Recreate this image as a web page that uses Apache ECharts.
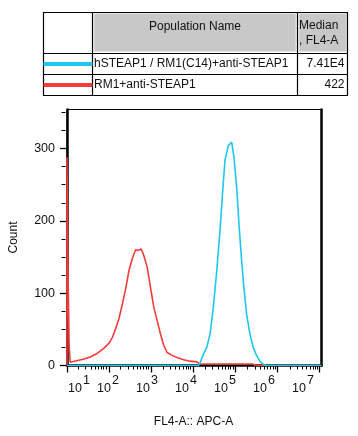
<!DOCTYPE html>
<html>
<head>
<meta charset="utf-8">
<script src="https://cdn.jsdelivr.net/npm/echarts@6/dist/echarts.min.js"></script>
<style>html,body{margin:0;padding:0;background:#fff}#c{width:358px;height:436px}</style>
</head>
<body>
<div id="c"></div>
<script>
// ---- data (x values are log10 of FL4-A :: APC-A) ----
var redExp   = [1.00,1.00,1.012,1.02,1.04,1.05,1.065,1.075,1.253,1.409,1.567,1.725,1.881,1.999,2.080,2.158,2.236,2.316,2.394,2.472,2.552,2.630,2.684,2.765,2.826,2.906,2.984,3.062,3.143,3.221,3.299,3.379,3.497,3.615,3.771,3.929,4.088,4.166,5.418,5.489,7.05];
var redCount = [0,288,288,143,143,30,30,4.5,7,9,12,17,24,31,39,51,65,85,106,131,148,160,159,161,152,136,108,81,62,44,28,18,14,11,8,6,5,2,2,0,0];
var cyanExp   = [1.00,4.125,4.166,4.244,4.324,4.402,4.480,4.560,4.638,4.702,4.756,4.834,4.914,4.969,5.033,5.094,5.151,5.205,5.269,5.347,5.425,5.505,5.583,5.661,5.725,7.05];
var cyanCount = [0,0,4,16,25,44,81,131,187,242,284,304,309,288,247,191,145,108,71,44,25,14,6,2,0,0];

var seriesNames   = ['hSTEAP1 / RM1(C14)+anti-STEAP1', 'RM1+anti-STEAP1'];
var seriesMedians = ['7.41E4', '422'];
var seriesColors  = ['#1ec6f0', '#f23c3c'];
var tableHeaders  = ['Population Name', 'Median', ', FL4-A'];

var xDecades   = [1,2,3,4,5,6,7];
var xMinorMult = [2,3,4,5,6,7,8,9];
var yMajor = [0,100,200,300];
var yMinor = [25,50,75,125,150,175,225,250,275,325,350];

var xMinorTicks = [];
xDecades.forEach(function(d){ xMinorMult.forEach(function(m){ var v = d + Math.log10(m); if (v < 7.05) xMinorTicks.push(v); }); });

function zip(a,b){ return a.map(function(v,i){ return [v,b[i]]; }); }

var FONT = 'Arial, "Liberation Sans", sans-serif';
var G = {left:65.5, top:109.5, width:256, height:256};

var chart = echarts.init(document.getElementById('c'), null, {renderer:'canvas'});

// ---- table graphic ----
var T = {x0:43.5, x1:92.5, x2:297.5, x3:347.5, y0:12.5, y1:53.5, y2:74.5, y3:95.5};
var gfx = [];
gfx.push({type:'rect', shape:{x:T.x1+1.5, y:T.y0+1, width:T.x2-T.x1-3, height:T.y1-T.y0-3}, style:{fill:'#c8c8c8', stroke:'#e4e4e4', lineWidth:1}});
gfx.push({type:'rect', shape:{x:T.x2+1.5, y:T.y0+1, width:T.x3-T.x2-2.5, height:T.y1-T.y0-3}, style:{fill:'#c8c8c8', stroke:'#e4e4e4', lineWidth:1}});
gfx.push({type:'rect', shape:{x:T.x0, y:T.y0, width:T.x3-T.x0, height:T.y3-T.y0}, style:{fill:null, stroke:'#000', lineWidth:1.2}});
[T.x1, T.x2].forEach(function(x){ gfx.push({type:'line', shape:{x1:x,y1:T.y0,x2:x,y2:T.y3}, style:{stroke:'#000', lineWidth:1.2}}); });
[T.y1, T.y2].forEach(function(y){ gfx.push({type:'line', shape:{x1:T.x0,y1:y,x2:T.x3,y2:y}, style:{stroke:'#000', lineWidth:1.2}}); });
gfx.push({type:'text', x:(T.x1+T.x2)/2, y:26.5, style:{text:tableHeaders[0], font:'12px '+FONT, fill:'#111', align:'center', verticalAlign:'middle'}});
gfx.push({type:'text', x:T.x2+1.5, y:25.5, style:{text:tableHeaders[1], font:'12px '+FONT, fill:'#111', align:'left', verticalAlign:'middle'}});
gfx.push({type:'text', x:T.x2+1.5, y:41, style:{text:tableHeaders[2], font:'12px '+FONT, fill:'#111', align:'left', verticalAlign:'middle'}});
var rowY = [(T.y1+T.y2)/2, (T.y2+T.y3)/2];
seriesNames.forEach(function(n,i){
  gfx.push({type:'line', shape:{x1:T.x0, y1:rowY[i], x2:T.x1, y2:rowY[i]}, style:{stroke:seriesColors[i], lineWidth:4}});
  gfx.push({type:'text', x:T.x1+1.5, y:rowY[i], style:{text:n, font:'12px '+FONT, fill:'#111', align:'left', verticalAlign:'middle'}});
  gfx.push({type:'text', x:T.x3-3, y:rowY[i], style:{text:seriesMedians[i], font:'12px '+FONT, fill:'#111', align:'right', verticalAlign:'middle'}});
});

var option = {
  animation:false,
  backgroundColor:'#fff',
  textStyle:{fontFamily:FONT},
  grid:[
    Object.assign({show:true, borderColor:'#000', borderWidth:1, backgroundColor:'transparent'}, G),
    Object.assign({}, G),
    Object.assign({}, G)
  ],
  xAxis:[
    {gridIndex:0, type:'value', min:1, max:7.05, position:'bottom',
     axisLine:{show:true, onZero:false, lineStyle:{color:'#000', width:2.5}},
     axisTick:{show:true, inside:false, length:7, customValues:xDecades, lineStyle:{color:'#000', width:1.3}},
     axisLabel:{show:false}, splitLine:{show:false}},
    {gridIndex:1, type:'value', min:1, max:7.05, position:'bottom',
     axisLine:{show:false},
     axisTick:{show:true, inside:false, length:4, customValues:xMinorTicks, lineStyle:{color:'#000', width:1}},
     axisLabel:{show:false}, splitLine:{show:false}},
    {gridIndex:2, type:'value', min:0.910, max:7.474, position:'bottom',
     axisLine:{show:false}, axisTick:{show:false}, splitLine:{show:false},
     axisLabel:{show:true, customValues:xDecades, margin:9,
       formatter:function(v){ var n = Math.round(v); return (n===1 ? '{p|}' : '') + '{b|10}{s|' + n + '}'; },
       rich:{
         b:{fontSize:12.5, fontFamily:FONT, color:'#111', lineHeight:21, verticalAlign:'bottom'},
         s:{fontSize:12.5, fontFamily:FONT, color:'#111', lineHeight:21, verticalAlign:'top', padding:[0,0,0,1]},
         p:{width:20, lineHeight:21}
       }},
     name:'FL4-A:: APC-A', nameLocation:'middle', nameGap:50,
     nameTextStyle:{fontSize:12, fontFamily:FONT, color:'#111'}}
  ],
  yAxis:[
    {gridIndex:0, type:'value', min:0, max:354, position:'left',
     axisLine:{show:true, onZero:false, lineStyle:{color:'#000', width:2.5}},
     axisTick:{show:true, inside:false, length:7, customValues:yMajor, lineStyle:{color:'#000', width:1.3}},
     axisLabel:{show:true, customValues:yMajor, margin:12, fontSize:12.5, fontFamily:FONT, color:'#111'},
     splitLine:{show:false},
     name:'Count', nameLocation:'middle', nameGap:47, nameRotate:90,
     nameTextStyle:{fontSize:12, fontFamily:FONT, color:'#111'}},
    {gridIndex:1, type:'value', min:0, max:354, position:'left',
     axisLine:{show:false},
     axisTick:{show:true, inside:false, length:4, customValues:yMinor, lineStyle:{color:'#000', width:1}},
     axisLabel:{show:false}, splitLine:{show:false}},
    {gridIndex:2, type:'value', min:0, max:354, position:'right',
     axisLine:{show:true, lineStyle:{color:'#000', width:2.5}},
     axisTick:{show:false}, axisLabel:{show:false}, splitLine:{show:false}}
  ],
  series:[
    {name:seriesNames[1], type:'line', xAxisIndex:0, yAxisIndex:0, data:zip(redExp, redCount),
     showSymbol:false, symbol:'none', lineStyle:{color:seriesColors[1], width:1.6}, itemStyle:{color:seriesColors[1]}, z:3},
    {name:seriesNames[0], type:'line', xAxisIndex:0, yAxisIndex:0, data:zip(cyanExp, cyanCount),
     showSymbol:false, symbol:'none', lineStyle:{color:seriesColors[0], width:1.6}, itemStyle:{color:seriesColors[0]}, z:4}
  ],
  graphic:gfx
};
chart.setOption(option);
</script>
</body>
</html>
